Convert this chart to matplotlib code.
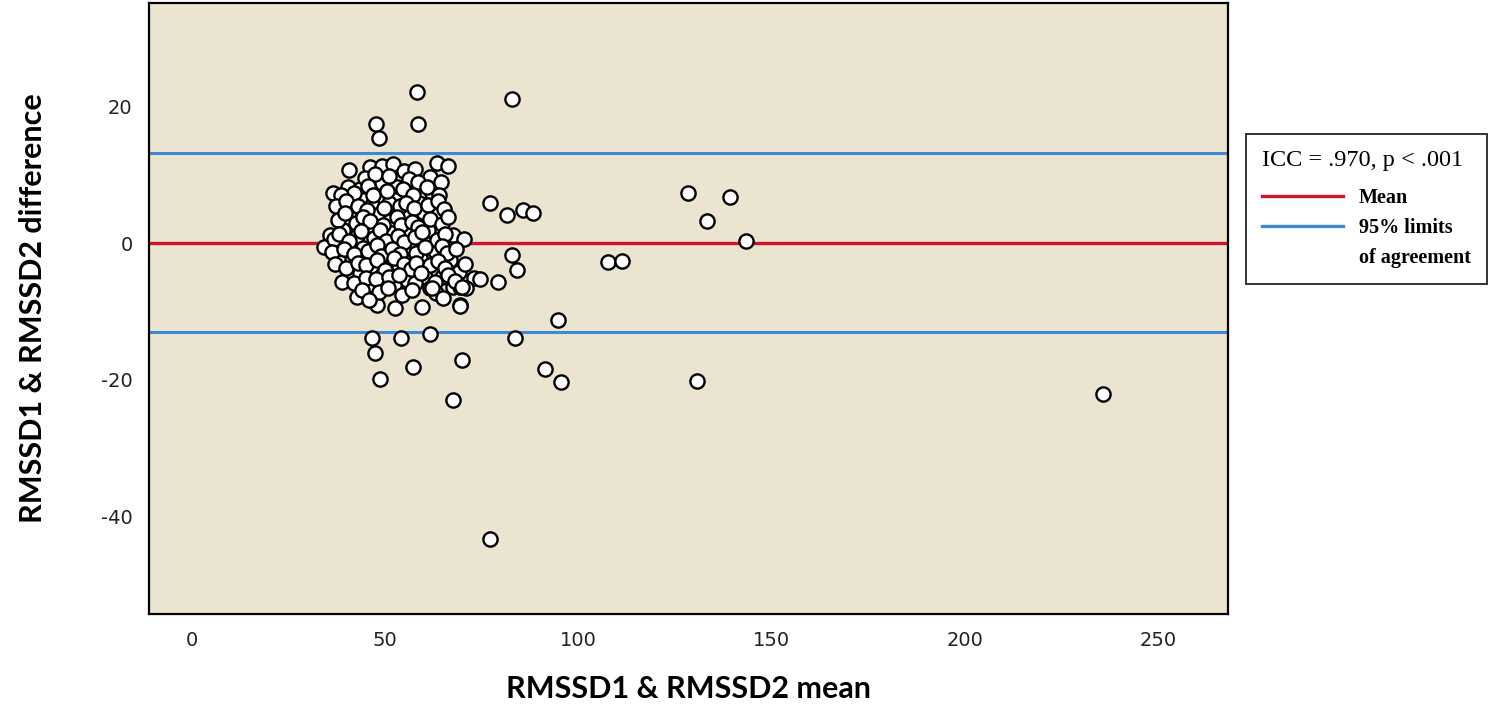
import numpy as np
import matplotlib
matplotlib.use('Agg')
import matplotlib.pyplot as plt
from matplotlib.lines import Line2D

plt.rcParams['axes.unicode_minus'] = False

cluster_mean = [
    40.8, 46.0, 49.2, 52.0, 54.8, 57.8, 63.4, 66.4, 61.7, 49.2, 53.2, 36.6, 40.3, 43.5, 59.5, 62.1,
    38.8, 44.4, 48.7, 52.6, 56.0, 41.4, 46.6, 50.9, 58.9, 41.0, 47.9, 51.3, 55.2, 59.9, 63.4,
    39.2, 45.7, 51.7, 55.6, 61.2, 67.7, 35.8, 42.7, 34.1, 37.5, 44.4, 56.5, 62.9,
    38.4, 41.4, 46.6, 50.9, 53.5, 59.1, 66.8, 69.0, 72.9, 40.5, 43.5, 49.2, 55.6, 60.4, 64.7,
    46.6, 52.2, 61.7, 67.7, 69.4, 42.7, 47.0, 47.9, 52.6, 59.5, 69.4,
    44.8, 47.5, 51.0, 56.3, 58.6, 64.5,
    42.0, 45.5, 47.0, 50.5, 54.7, 57.2, 60.8, 64.0, 38.5,
    37.2, 40.0, 43.0, 45.2, 49.8, 53.8, 55.5, 57.5, 61.0, 63.8, 65.2,
    37.8, 39.6, 42.5, 44.2, 46.0, 49.5, 53.0, 54.2, 57.0, 58.4, 61.5, 64.8, 66.2,
    36.8, 38.0, 40.7, 43.8, 47.2, 48.6, 50.2, 53.4, 54.8, 57.7, 59.6, 63.4, 65.5, 70.5,
    36.2, 39.5, 42.0, 45.5, 47.8, 49.0, 51.8, 53.9, 57.9, 60.3, 64.8, 66.0, 68.3,
    37.0, 40.0, 43.0, 45.0, 47.9, 49.9, 52.3, 55.0, 56.8, 58.0, 61.6, 63.7, 65.5, 70.8,
    38.9, 41.9, 45.1, 47.6, 51.0, 53.6, 57.8, 59.2, 62.8, 66.4, 68.1, 71.0,
    44.0, 48.5, 50.7, 54.3, 56.9, 63.3, 65.0, 45.8,
]
cluster_diff = [
    10.7, 11.2, 11.3, 11.6, 10.6, 10.8, 11.8, 11.3, 9.7, 8.8, 8.2, 7.4, 8.2, 7.9, 7.6, 7.4,
    5.8, 6.4, 6.6, 6.3, 6.4, 5.1, 5.6, 5.9, 5.9, 3.7, 4.1, 3.2, 4.6, 4.6, 4.1,
    1.9, 2.2, 1.5, 1.5, 1.9, 1.2, 1.2, 1.0, -0.5, -0.2, -0.7, -0.7, -1.2,
    -2.7, -2.4, -3.7, -2.7, -3.4, -2.2, -2.4, -4.2, -5.1, -4.9, -4.4, -4.6, -5.4, -4.9, -4.9,
    -6.1, -6.1, -6.5, -6.4, -6.4, -7.8, -8.5, -9.0, -9.5, -9.3, -9.0,
    9.6, 10.2, 9.9, 9.4, 8.9, 9.0,
    7.3, 8.4, 7.0, 7.6, 7.9, 7.1, 8.3, 7.0, 7.0,
    5.4, 6.2, 5.5, 4.9, 5.2, 5.4, 5.9, 5.1, 5.6, 6.2, 5.0,
    3.4, 4.4, 3.0, 3.9, 3.3, 2.7, 3.8, 2.6, 3.1, 2.4, 3.5, 2.8, 3.9,
    0.6, 1.4, 0.3, 1.8, 0.8, 1.9, 0.4, 1.1, 0.2, 0.9, 1.6, 0.5, 1.4, 0.6,
    -1.3, -0.9, -1.6, -1.2, -0.3, -1.8, -0.9, -1.6, -1.4, -0.5, -0.4, -1.5, -0.8,
    -3.1, -3.6, -2.9, -3.2, -2.4, -3.9, -2.2, -3.0, -3.8, -2.9, -3.2, -2.6, -3.6, -3.0,
    -5.6, -5.8, -5.1, -5.3, -5.0, -4.7, -5.8, -4.3, -5.7, -4.6, -5.5, -6.6,
    -6.9, -7.2, -6.6, -7.5, -6.8, -7.3, -8.0, -8.3,
]

outer_mean = [
    58.2, 47.6, 58.6, 48.4, 82.9, 77.2, 81.5, 85.6, 88.2, 128.3, 139.3, 133.4, 143.5,
    82.9, 84.2, 79.3, 74.6, 107.6, 111.4, 94.7, 83.5, 91.4, 95.5, 130.8, 77.2,
    46.6, 54.2, 61.7, 47.4, 57.2, 69.9, 48.7, 67.7, 69.9, 62.1, 69.4, 235.8,
]
outer_diff = [
    22.2, 17.5, 17.5, 15.4, 21.1, 5.9, 4.2, 4.9, 4.4, 7.3, 6.7, 3.3, 0.4,
    -1.7, -3.9, -5.6, -5.2, -2.8, -2.6, -11.2, -13.9, -18.4, -20.3, -20.2, -43.3,
    -13.8, -13.8, -13.3, -16.0, -18.1, -17.1, -19.8, -22.9, -6.4, -6.6, -9.2, -22.1,
]

mean_diff = 0.1
loa = [13.15, -12.95]
x_ticks = [0, 50, 100, 150, 200, 250]
y_ticks = [20, 0, -20, -40]

fig = plt.figure(figsize=(14.94, 7.12), dpi=100)
ax = fig.add_axes([0.0999, 0.1372, 0.7219, 0.8590])
ax.set_facecolor('#ebe4d0')

ax.axhline(mean_diff, color='#d0142c', lw=2.4, zorder=1)
for v in loa:
    ax.axhline(v, color='#3b8ad8', lw=2.2, zorder=1)

ax.scatter(cluster_mean + outer_mean, cluster_diff + outer_diff, s=105,
           facecolor='white', edgecolor='black', linewidths=1.7, zorder=3)

ax.set_xlim(-11, 268)
ax.set_ylim(-54.3, 35.2)
ax.set_xticks(x_ticks)
ax.set_yticks(y_ticks)
ax.tick_params(length=0, labelsize=14, labelcolor='#222222', pad=12)
for s in ax.spines.values():
    s.set_linewidth(1.6)

ax.set_xlabel('RMSSD1 & RMSSD2 mean', fontsize=22, fontweight='bold',
              family='Lato', labelpad=18)
ax.set_ylabel('RMSSD1 & RMSSD2 difference', fontsize=22, fontweight='bold',
              family='Lato', labelpad=39)

# 图例
handles = [Line2D([], [], color='#d0142c', lw=2.4),
           Line2D([], [], color='#3b8ad8', lw=2.4),
           Line2D([], [], color='none')]
labels = ['Mean', '95% limits', 'of agreement']
leg = fig.legend(handles, labels, loc='upper left', bbox_to_anchor=(0.834, 0.812),
                 borderaxespad=0, title='ICC = .970, p < .001', frameon=True,
                 fancybox=False, edgecolor='black', handlelength=4.0,
                 handletextpad=0.8, labelspacing=0.5, borderpad=0.8,
                 prop={'family': 'Liberation Serif', 'size': 14.5, 'weight': 'bold'},
                 title_fontproperties={'family': 'Liberation Serif', 'size': 17.5})
leg._legend_box.align = 'left'
leg._legend_box.sep = 12  # 标题与条目之间的间距
leg.get_frame().set_linewidth(1.4)

fig.savefig('out.png', dpi=100)
